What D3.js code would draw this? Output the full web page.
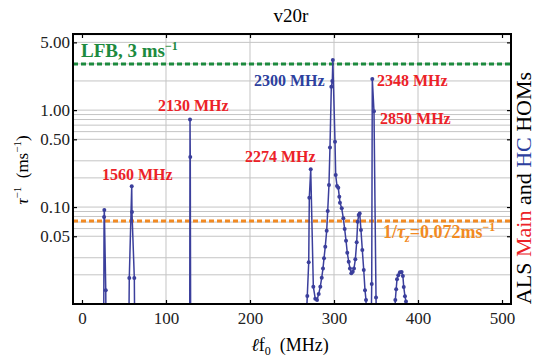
<!DOCTYPE html>
<meta charset="utf-8">
<html>
<head>
<title>v20r</title>
<style>
  html, body { margin: 0; padding: 0; background: #fff; }
  text { font-family: 'Liberation Serif', 'DejaVu Serif', serif; }
  .grid line { stroke: #c4c4c4; stroke-width: 1; }
  .axis path { display: none; }
  .axis line { stroke: #000; stroke-width: 1.2; }
  .axis text { font-size: 17px; fill: #222; }
  .frame { fill: none; stroke: #000; stroke-width: 2; }
  .series { fill: none; stroke: #3b3f9c; stroke-width: 1.5; }
  .dot { fill: #3b3f9c; }
  .note { font-size: 16px; font-weight: bold; }
</style>
</head>
<body>
<svg xmlns="http://www.w3.org/2000/svg"></svg>
<script src="https://d3js.org/d3.v7.min.js"></script>
<script>
var width = 536, height = 357;
var plotL = 73, plotR = 511, plotT = 34, plotB = 304;

// growth rate of each mode, MHz vs 1/tau (ms^-1); values < 0.01 fall off the bottom
var freq = [
  25.8, 26.3, 26.6, 28.3, 28.8,
  55.5, 56.3, 59.2, 59.5, 62.3, 63.0,
  128.2, 128.6, 128.9, 129.4,
  267.3, 268.2, 269.9, 270.6, 272.3, 275.4, 277.7, 279.8, 281.8, 283.7,
  285.4, 286.9, 288.1, 289.6, 291.3, 292.5, 294.0, 295.2, 296.8, 298.0,
  298.6, 301.2, 302.0, 303.6, 305.1, 306.3, 307.1, 309.2, 311.1, 312.7,
  314.3, 315.8, 317.5, 319.0, 320.6, 322.3, 323.8, 325.4, 327.0, 328.2,
  329.4, 330.6, 332.1, 333.7, 335.4, 336.9, 338.1, 338.7,
  344.3, 344.9, 345.6, 347.6, 350.0, 350.6,
  372.0, 373.0, 374.0, 375.0, 376.5, 378.5, 380.5, 382.0, 383.0, 384.5, 385.7, 386.3
];
var rate = [
  0.004, 0.079, 0.093, 0.0139, 0.003,
  0.003, 0.0185, 0.164, 0.0888, 0.0185, 0.003,
  0.003, 0.80, 0.328, 0.003,
  0.008, 0.0121, 0.0269, 0.125, 0.245, 0.0151, 0.0113, 0.011, 0.0127, 0.0151,
  0.0187, 0.0233, 0.0296, 0.039, 0.057, 0.091, 0.169, 0.412, 1.74, 2.0,
  3.28, 0.471, 0.214, 0.165, 0.158, 0.128, 0.111, 0.097, 0.0765, 0.0593,
  0.045, 0.0338, 0.0273, 0.0233, 0.0207, 0.0215, 0.0233, 0.0289, 0.0433, 0.0705,
  0.0827, 0.086, 0.058, 0.036, 0.0224, 0.0139, 0.011, 0.005,
  0.006, 0.0161, 2.09, 0.976, 0.0117, 0.006,
  0.006, 0.011, 0.0142, 0.018, 0.0198, 0.0212, 0.0214, 0.0195, 0.015, 0.012, 0.0106, 0.006
];

var xTicks = [0, 100, 200, 300, 400, 500];
var yTicks = [0.05, 0.1, 0.5, 1, 5];
var xGrid = [100, 200, 300, 400];
var yGrid = [0.02, 0.03, 0.05, 0.06, 0.07, 0.08, 0.09, 0.1, 0.2, 0.3, 0.5, 0.6, 0.7, 0.8, 0.9, 1, 2, 3, 5, 6];

var lfbRate = 3.0;      // feedback damping
var radRate = 0.072;    // radiation damping 1/tau_z

// mode labels: text, colour, anchor (MHz, ms^-1) of the text's left baseline
var modeNames = ["1560 MHz", "2130 MHz", "2274 MHz", "2300 MHz", "2348 MHz", "2850 MHz"];
var modeHC = [false, false, false, true, false, false];
var modeAtF = [23.8, 90.5, 194, 204.8, 351.2, 354.8];
var modeAtR = [0.19, 0.976, 0.291, 1.77, 1.77, 0.717];

var x = d3.scaleLinear().domain([-10.7, 510.7]).range([plotL, plotR]);
var y = d3.scaleLog().domain([0.01, 6.1]).range([plotB, plotT]);

var svg = d3.select('svg').attr('width', width).attr('height', height);

// grid
var grid = svg.append('g').attr('class', 'grid');
grid.selectAll('.gx').data(xGrid).enter().append('line')
  .attr('x1', function(d){ return x(d); }).attr('x2', function(d){ return x(d); })
  .attr('y1', plotT).attr('y2', plotB);
grid.selectAll('.gy').data(yGrid).enter().append('line')
  .attr('x1', plotL).attr('x2', plotR)
  .attr('y1', function(d){ return y(d); }).attr('y2', function(d){ return y(d); });

// damping lines
svg.append('line')
  .attr('x1', plotL).attr('x2', plotR).attr('y1', y(lfbRate)).attr('y2', y(lfbRate))
  .attr('stroke', '#1d8a3e').attr('stroke-width', 3).attr('stroke-dasharray', '5,3');
svg.append('line')
  .attr('x1', plotL).attr('x2', plotR).attr('y1', y(radRate)).attr('y2', y(radRate))
  .attr('stroke', '#f28a22').attr('stroke-width', 3).attr('stroke-dasharray', '5,3');

// data
svg.append('clipPath').attr('id', 'plot')
  .append('rect').attr('x', plotL).attr('y', plotT).attr('width', plotR - plotL).attr('height', plotB - plotT);
var pts = freq.map(function(f, i){ return [f, rate[i]]; });
var g = svg.append('g').attr('clip-path', 'url(#plot)');
g.append('path').attr('class', 'series')
  .attr('d', d3.line().x(function(d){ return x(d[0]); }).y(function(d){ return y(d[1]); })(pts));
g.selectAll('circle').data(pts.filter(function(d){ return d[1] >= 0.01; })).enter()
  .append('circle').attr('class', 'dot').attr('r', 2)
  .attr('cx', function(d){ return x(d[0]); }).attr('cy', function(d){ return y(d[1]); });

// axes
svg.append('g').attr('class', 'axis').attr('transform', 'translate(0,' + plotB + ')')
  .call(d3.axisBottom(x).tickValues(xTicks).tickSizeInner(-4).tickSizeOuter(0).tickPadding(8).tickFormat(d3.format('d')));
svg.append('g').attr('class', 'axis').attr('transform', 'translate(0,' + plotT + ')')
  .call(d3.axisTop(x).tickValues(xTicks).tickSizeInner(-4).tickSizeOuter(0).tickFormat(''));
svg.append('g').attr('class', 'axis').attr('transform', 'translate(' + plotL + ',0)')
  .call(d3.axisLeft(y).tickValues(yTicks).tickSizeInner(-4).tickSizeOuter(0).tickPadding(3).tickFormat(d3.format('.2f')));
svg.append('g').attr('class', 'axis').attr('transform', 'translate(' + plotR + ',0)')
  .call(d3.axisRight(y).tickValues(yTicks).tickSizeInner(-4).tickSizeOuter(0).tickFormat(''));

svg.append('rect').attr('class', 'frame')
  .attr('x', plotL).attr('y', plotT).attr('width', plotR - plotL).attr('height', plotB - plotT);

// mode labels
svg.selectAll('.mode').data(modeNames).enter().append('text')
  .attr('class', 'note')
  .attr('x', function(d, i){ return x(modeAtF[i]); })
  .attr('y', function(d, i){ return y(modeAtR[i]); })
  .attr('fill', function(d, i){ return modeHC[i] ? '#2d3f9e' : '#ec2228'; })
  .text(function(d){ return d; });

var lfb = svg.append('text').attr('class', 'note').attr('fill', '#1d8a3e')
  .style('font-size', '19px').attr('x', x(-1.2)).attr('y', y(3.52));
lfb.append('tspan').text('LFB, 3 ms');
lfb.append('tspan').attr('dy', -7).style('font-size', '12px').text('\u22121');

var rad = svg.append('text').attr('class', 'note').attr('fill', '#f28a22')
  .style('font-size', '18px').attr('x', x(358.3)).attr('y', y(0.048));
rad.append('tspan').text('1/');
rad.append('tspan').style('font-style', 'italic').text('\u03c4');
rad.append('tspan').attr('dy', 4).style('font-size', '12px').style('font-style', 'italic').text('z');
rad.append('tspan').attr('dy', -4).text('=0.072ms');
rad.append('tspan').attr('dy', -7).style('font-size', '12px').text('\u22121');

// title and axis labels
svg.append('text').attr('x', 291).attr('y', 22).attr('text-anchor', 'middle')
  .style('font-size', '19px').text('v20r');

var xl = svg.append('text').attr('x', 290).attr('y', 351).attr('text-anchor', 'middle').style('font-size', '18px');
xl.append('tspan').style('font-style', 'italic').text('\u2113');
xl.append('tspan').text('f');
xl.append('tspan').attr('dy', 4).style('font-size', '12px').text('0');
xl.append('tspan').attr('dy', -4).text('\u2002(MHz)');

var yl = svg.append('text').attr('transform', 'translate(28,170) rotate(-90)')
  .attr('text-anchor', 'middle').style('font-size', '17px');
yl.append('tspan').style('font-style', 'italic').text('\u03c4');
yl.append('tspan').attr('dy', -7).style('font-size', '11px').text('\u22121');
yl.append('tspan').attr('dy', 7).text('\u2002(ms');
yl.append('tspan').attr('dy', -7).style('font-size', '11px').text('\u22121');
yl.append('tspan').attr('dy', 7).text(')');

var side = svg.append('text').attr('transform', 'translate(531,188) rotate(-90)')
  .attr('text-anchor', 'middle').style('font-size', '22px');
side.append('tspan').text('ALS ');
side.append('tspan').attr('fill', '#ec2228').text('Main');
side.append('tspan').text(' and ');
side.append('tspan').attr('fill', '#2d3f9e').text('HC');
side.append('tspan').text(' HOMs');
</script>
</body>
</html>
